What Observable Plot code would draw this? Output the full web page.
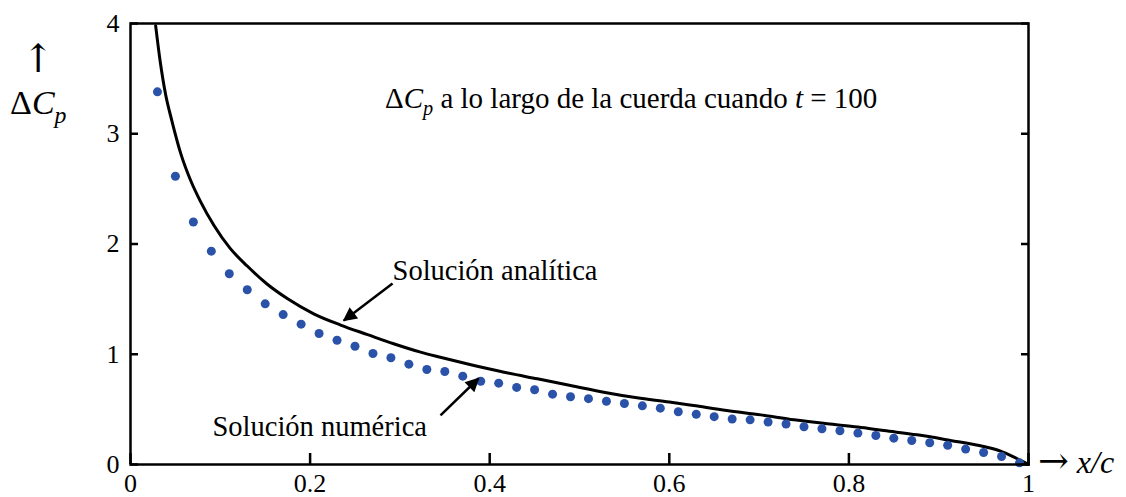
<!DOCTYPE html>
<html>
<head>
<meta charset="utf-8">
<script src="https://cdn.jsdelivr.net/npm/d3@7"></script>
<script src="https://cdn.jsdelivr.net/npm/@observablehq/plot@0.6"></script>
<style>
  html, body { margin: 0; padding: 0; background: #fff; }
  #chart { width: 1126px; height: 497px; }
</style>
</head>
<body>
<div id="chart"></div>
<script>
// ---- data ----
const numX = [0.03,0.05,0.07,0.09,0.11,0.13,0.15,0.17,0.19,0.21,0.23,0.25,0.27,0.29,0.31,0.33,0.35,0.37,0.39,0.41,
              0.43,0.45,0.47,0.49,0.51,0.53,0.55,0.57,0.59,0.61,0.63,0.65,0.67,0.69,0.71,0.73,0.75,0.77,0.79,0.81,
              0.83,0.85,0.87,0.89,0.91,0.93,0.95,0.97,0.99];
const numY = [3.38,2.615,2.20,1.935,1.73,1.585,1.457,1.36,1.273,1.188,1.127,1.073,1.007,0.968,0.91,0.862,0.844,0.801,0.755,0.738,
              0.699,0.678,0.638,0.615,0.597,0.574,0.553,0.532,0.511,0.478,0.456,0.434,0.413,0.405,0.385,0.367,0.342,0.324,0.306,0.285,
              0.263,0.239,0.218,0.197,0.175,0.14,0.109,0.073,0.015];
const anaX = [0.028,0.033,0.039,0.046,0.056,0.067,0.078,0.093,0.111,0.13,0.152,0.175,0.204,0.234,0.264,0.293,0.323,0.345,0.379,0.416,
              0.453,0.49,0.527,0.564,0.6,0.627,0.664,0.702,0.739,0.776,0.81,0.839,0.876,0.913,0.95,0.969,0.984,0.995,1.0];
const anaY = [3.98,3.66,3.36,3.12,2.82,2.576,2.385,2.168,1.96,1.8,1.637,1.503,1.367,1.265,1.178,1.095,1.019,0.973,0.905,0.837,
              0.777,0.717,0.656,0.605,0.567,0.535,0.49,0.45,0.405,0.369,0.34,0.308,0.269,0.218,0.163,0.121,0.066,0.021,0];
const xTicks = [0,0.2,0.4,0.6,0.8,1];
const xTickLabels = ["0","0.2","0.4","0.6","0.8","1"];
const yTicks = [0,1,2,3,4];
const yTickLabels = ["0","1","2","3","4"];
const noteTexts = ["Solución analítica","Solución numérica"];

// annotation placement (data units)
const noteX = [0.2918, 0.0913];
const noteY = [1.669, 0.254];
const arrowX1 = [0.2918, 0.3452], arrowY1 = [1.642, 0.445];
const arrowX2 = [0.2376, 0.3875], arrowY2 = [1.306, 0.780];

const numeric = numX.map((x, i) => ({x, y: numY[i]}));
const analytic = anaX.map((x, i) => ({x, y: anaY[i]}));
const notes = noteTexts.map((t, i) => ({t, x: noteX[i], y: noteY[i]}));
const arrows = arrowX1.map((x1, i) => ({x1, y1: arrowY1[i], x2: arrowX2[i], y2: arrowY2[i]}));

const FONT = "'Liberation Serif', 'Times New Roman', serif";

const plot = Plot.plot({
  width: 1126,
  height: 497,
  marginLeft: 130,
  marginRight: 98,
  marginTop: 23,
  marginBottom: 33,
  style: {fontFamily: FONT, background: "white", color: "black", overflow: "visible"},
  x: {domain: [0, 1]},
  y: {domain: [0, 4]},
  marks: [
    Plot.line(analytic, {x: "x", y: "y", stroke: "black", strokeWidth: 3, curve: "monotone-x"}),
    Plot.dot(numeric, {x: "x", y: "y", r: 4.5, fill: "#2a52a8", stroke: "none"}),
    Plot.link(arrows, {x1: "x1", y1: "y1", x2: "x2", y2: "y2", stroke: "black", strokeWidth: 2.5}),
    Plot.text(notes, {x: "x", y: "y", text: "t", textAnchor: "start", lineAnchor: "bottom", fontSize: 28.5, fill: "black"}),
    Plot.axisX({anchor: "bottom", ticks: xTicks, tickFormat: (d) => xTickLabels[xTicks.indexOf(d)],
                tickSize: -11, tickPadding: 20, fontSize: 26, strokeWidth: 2.5, label: null}),
    Plot.axisY({anchor: "left", ticks: yTicks, tickFormat: d => yTickLabels[yTicks.indexOf(d)],
                tickSize: -8, tickPadding: 19, fontSize: 26, strokeWidth: 2.5, label: null}),
    Plot.axisY({anchor: "right", ticks: yTicks, tickFormat: () => "", tickSize: -8, tickPadding: 0,
                strokeWidth: 2.5, label: null}),
    Plot.frame({stroke: "black", strokeWidth: 2.5})
  ]
});
document.getElementById("chart").appendChild(plot);

// filled arrowheads for annotation links
const svg = d3.select(plot);
svg.append("defs").append("marker")
  .attr("id", "ah").attr("viewBox", "0 0 10 10").attr("refX", 9).attr("refY", 5)
  .attr("markerUnits", "userSpaceOnUse").attr("markerWidth", 18).attr("markerHeight", 14)
  .attr("orient", "auto")
  .append("path").attr("d", "M0,0L10,5L0,10z").attr("fill", "black");
svg.selectAll('g[aria-label="link"] path').attr("marker-end", "url(#ah)");

// rich text labels (italic / subscript / arrow glyphs)
function rich(x, y, size, parts, anchor) {
  const t = svg.append("text").attr("x", x).attr("y", y)
    .attr("font-family", FONT).attr("font-size", size).attr("fill", "black")
    .attr("text-anchor", anchor || "start");
  let sub = false;
  for (const [s, st] of parts) {
    const ts = t.append("tspan").text(s);
    if (st.includes("i")) ts.attr("font-style", "italic");
    if (st.includes("arrow")) ts.attr("font-family", "'DejaVu Serif'").attr("font-size", size * 1.15).attr("font-weight", 200);
    if (st.includes("sub")) {
      ts.attr("font-size", size * 0.7).attr("dy", size * 0.25);
      sub = true;
    } else if (sub) {
      ts.attr("dy", -size * 0.25);
      sub = false;
    }
  }
  return t;
}
rich(385, 108, 29, [["Δ",""],["C","i"],["p","isub"],[" a lo largo de la cuerda cuando ",""],["t","i"],[" = 100",""]]);
rich(38, 72, 34, [["↑","arrow"]], "middle");
rich(10, 114, 34, [["Δ",""],["C","i"],["p","isub"]]);
rich(1038, 473, 32, [["→","arrow"],[" x/c","i"]]);
</script>
</body>
</html>
